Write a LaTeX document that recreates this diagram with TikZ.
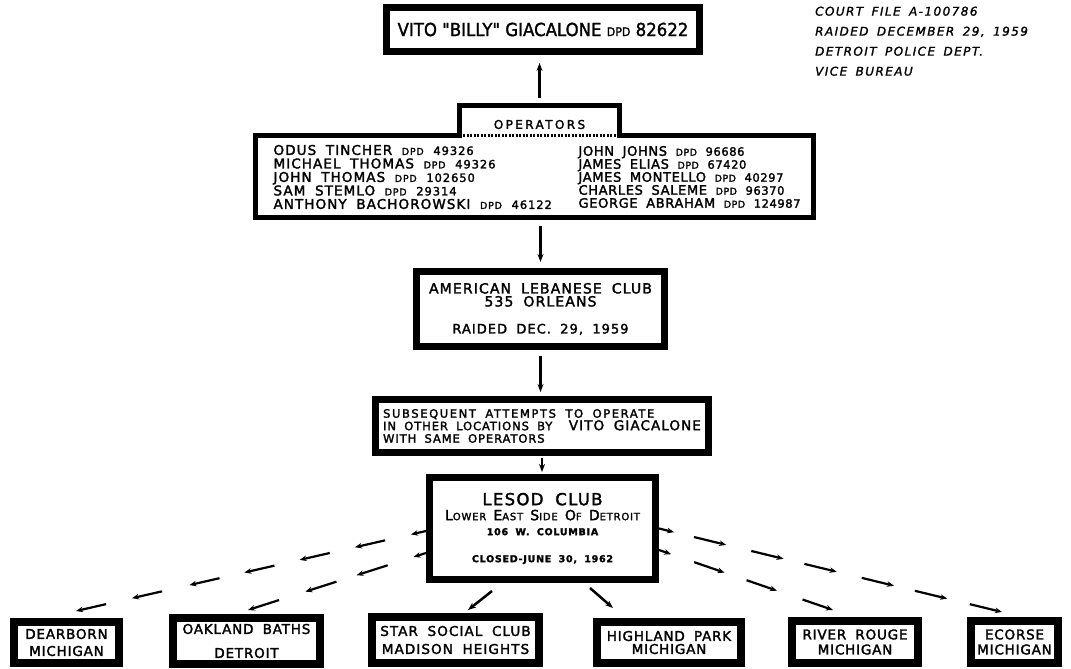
\documentclass[tikz,border=0pt]{standalone}
\usepackage{fontspec}
\usetikzlibrary{arrows.meta, positioning, calc}
\newfontfamily\signfont[LetterSpace=8, WordSpace=1.8, FakeBold=2]{DejaVu Sans}
\newfontfamily\vitofont[FakeStretch=0.92, FakeBold=1.5]{DejaVu Sans}
\newfontfamily\notefont[LetterSpace=12, WordSpace=1.6, FakeBold=1.5]{DejaVu Sans}
\newcommand\fsz[1]{\fontsize{#1}{#1}\selectfont}
\newcommand\dpd[1]{{\fsz{9.5}DPD} {\fsz{11.5}#1}}
\newcommand\smcap[2]{{\fsz{14}#1}{\fsz{10}#2}}

\begin{document}
\begin{tikzpicture}[x=1pt, y=-1pt,
    sign/.style={draw, fill=white, line width=7pt, inner sep=0pt, align=center},
    place/.style={sign, line width=8pt},
    link/.style={-{Stealth[length=8pt,width=6pt]}, line width=2.5pt},
    chain/.style={-{Stealth[length=7pt,width=5.5pt]}, line width=2.2pt}]
\useasboundingbox[fill=white] (0,0) rectangle (1071,669);

\node[sign, minimum width=313pt, minimum height=44pt, font=\vitofont\fsz{18}] (vito) at (543,29.5) {VITO "BILLY" GIACALONE {\fsz{12}DPD} 82622};

\node[outer sep=0pt, minimum width=558pt, minimum height=82pt] (ops) at (534.5,176.5) {};
\node[outer sep=0pt, minimum width=160pt, minimum height=30pt, font=\signfont\fsz{12}] (optitle) at (539.5,120.5) {\addfontfeature{LetterSpace=20}\raisebox{-4pt}[\height][\depth]{OPERATORS}};
\draw[line width=5pt, line join=miter] (ops.north west) -- (optitle.south west) -- (optitle.north west) -- (optitle.north east) -- (optitle.south east) -- (ops.north east) -- (ops.south east) -- (ops.south west) -- cycle;
\draw[line width=3pt, white] (optitle.south west) ++(2.5,0) -- ($(optitle.south east)+(-2.5,0)$);
\draw[line width=3pt, dash pattern=on 2pt off 1.5pt] (optitle.south west) -- (optitle.south east);
\node[anchor=west, align=left, font=\signfont\fsz{13.5}] (opsleft) at (270,177) {ODUS TINCHER \dpd{49326}\\MICHAEL THOMAS \dpd{49326}\\JOHN THOMAS \dpd{102650}\\SAM STEMLO \dpd{29314}\\ANTHONY BACHOROWSKI \dpd{46122}};
\node[anchor=west, align=left, font=\signfont\fsz{13}\addfontfeature{LetterSpace=5}] (opsright) at (575,177) {JOHN JOHNS \dpd{96686}\\JAMES ELIAS \dpd{67420}\\JAMES MONTELLO \dpd{40297}\\CHARLES SALEME \dpd{96370}\\GEORGE ABRAHAM \dpd{124987}};

\node[sign, minimum width=248pt, minimum height=75pt, font=\signfont\fontsize{14}{13}\selectfont] (club) at (540.5,309) {AMERICAN LEBANESE CLUB\\535 ORLEANS\\[14pt]{\fsz{13}RAIDED DEC. 29, 1959}};

\node[sign, minimum width=333pt, minimum height=53pt, align=left, font=\signfont\fontsize{11.5}{12.5}\selectfont] (later) at (542,426) {{\addfontfeature{LetterSpace=14}SUBSEQUENT ATTEMPTS TO OPERATE}\\IN OTHER LOCATIONS BY\ \ {\fsz{13.5}VITO GIACALONE}\\WITH SAME OPERATORS};

\node[sign, minimum width=226pt, minimum height=102pt, font=\signfont\fontsize{10}{15}\selectfont] (lesod) at (542.5,528.5) {{\fsz{16.5}LESOD CLUB}\\\smcap{L}{OWER} \smcap{E}{AST} \smcap{S}{IDE} \smcap{O}{F} \smcap{D}{ETROIT}\\{\bfseries\fsz{9.5}106 W. COLUMBIA}\\[12pt]{\bfseries\fsz{9.5}CLOSED-JUNE 30, 1962}};

\node[place, minimum width=105pt, minimum height=41pt, font=\signfont\fontsize{13.5}{17}\selectfont\addfontfeature{LetterSpace=6}] (dearborn) at (66.5,642.5) {DEARBORN\\MICHIGAN};
\node[place, minimum width=147pt, minimum height=46pt, font=\signfont\fontsize{13.5}{24}\selectfont\addfontfeature{LetterSpace=6}] (oakland) at (246.5,641) {OAKLAND BATHS\\DETROIT};
\node[place, minimum width=167pt, minimum height=46pt, font=\signfont\fontsize{13.5}{18}\selectfont\addfontfeature{LetterSpace=8}] (star) at (455.5,640) {STAR SOCIAL CLUB\\MADISON HEIGHTS};
\node[place, minimum width=144pt, minimum height=41pt, font=\signfont\fontsize{13.5}{13}\selectfont\addfontfeature{LetterSpace=6}] (highland) at (669,642.5) {HIGHLAND PARK\\MICHIGAN};
\node[place, minimum width=126pt, minimum height=42pt, font=\signfont\fontsize{13.5}{15}\selectfont\addfontfeature{LetterSpace=6}] (rouge) at (855,642) {RIVER ROUGE\\MICHIGAN};
\node[place, minimum width=87pt, minimum height=42pt, font=\signfont\fontsize{13.5}{15}\selectfont\addfontfeature{LetterSpace=6}] (ecorse) at (1014.5,642) {ECORSE\\MICHIGAN};

\node[anchor=north west, align=left, inner sep=0pt, font=\notefont\itshape\fontsize{12}{20}\selectfont] (file) at (815,6.5) {COURT FILE A-100786\\RAIDED DECEMBER 29, 1959\\DETROIT POLICE DEPT.\\VICE BUREAU};

\draw[link, shorten <=8pt, shorten >=8pt] (optitle.north) -- (optitle.north |- vito.south);
\draw[link, shorten <=8pt, shorten >=6pt] (ops.south -| club.north) -- (club.north);
\draw[link, shorten <=6pt, shorten >=4pt] (club.south) -- (club.south |- later.north);
\draw[link, line width=2pt, shorten <=2pt, shorten >=2pt] (later.south) -- (later.south |- lesod.north);
\draw[link] ($(lesod.south)+(-50.5,8)$) -- ($(star.north)+(12.5,-3)$);
\draw[link] ($(lesod.south)+(47.5,5)$) -- ($(highland.north)+(-56,-10)$);

\coordinate (ulA) at ($(lesod.west)+(0,2.5)$);
\coordinate (ulB) at ($(dearborn.north)+(9.5,-7)$);
\coordinate (llA) at ($(lesod.west)+(0,24.5)$);
\coordinate (llB) at ($(oakland.north)+(1.5,-4)$);
\coordinate (urA) at ($(lesod.east)+(0,0)$);
\coordinate (urB) at ($(ecorse.north)+(-12.5,-5)$);
\coordinate (lrA) at ($(lesod.east)+(0,21.5)$);
\coordinate (lrB) at ($(rouge.north)+(-22,-7)$);
\foreach \p/\q in {0/0.043, 0.117/0.203, 0.275/0.361, 0.433/0.519, 0.590/0.676, 0.754/0.840, 0.914/1}
  \draw[chain] ($(ulA)!\p!(ulB)$) -- ($(ulA)!\q!(ulB)$);
\foreach \p/\q in {0/0.07, 0.215/0.39, 0.503/0.678, 0.825/1}
  \draw[chain] ($(llA)!\p!(llB)$) -- ($(llA)!\q!(llB)$);
\foreach \p/\q in {0/0.044, 0.102/0.196, 0.269/0.363, 0.424/0.518, 0.591/0.685, 0.746/0.840, 0.906/1}
  \draw[chain] ($(urA)!\p!(urB)$) -- ($(urA)!\q!(urB)$);
\foreach \p/\q in {0/0.07, 0.202/0.377, 0.503/0.678, 0.825/1}
  \draw[chain] ($(lrA)!\p!(lrB)$) -- ($(lrA)!\q!(lrB)$);
\end{tikzpicture}
\end{document}
